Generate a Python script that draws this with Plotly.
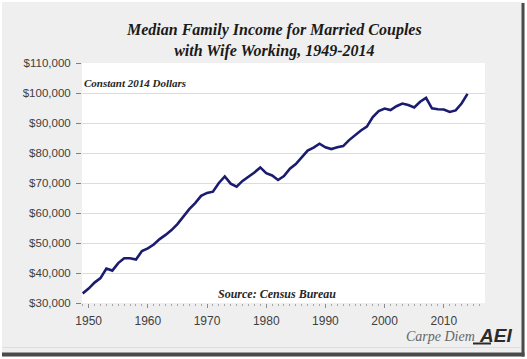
import plotly.graph_objects as go

years = list(range(1949, 2015))
income = [
    33200, 34800, 36800, 38300, 41500, 40800, 43300, 44900, 44900, 44500,
    47300, 48200, 49500, 51300, 52700, 54300, 56300, 58800, 61300, 63300,
    65700, 66700, 67100, 70000, 72200, 69800, 68800, 70700, 72000, 73500,
    75200, 73300, 72500, 71000, 72300, 74800, 76300, 78700, 80800, 81800,
    83100, 81900, 81300, 81900, 82300, 84300, 86000, 87500, 88800, 92000,
    94000, 94800, 94300, 95600, 96500, 96000, 95200, 97100, 98400, 94900,
    94600, 94500, 93700, 94200, 96500, 99700,
]
y_ticks = [30000, 40000, 50000, 60000, 70000, 80000, 90000, 100000, 110000]
x_ticks = [1950, 1960, 1970, 1980, 1990, 2000, 2010]

W, H = 527, 359
L, R, T, B = 82, 42, 63, 56
PW, PH = W - L - R, H - T - B


def px(x):
    return (x - L) / PW


def py(y):
    return (H - B - y) / PH


fig = go.Figure()
fig.add_trace(go.Scatter(
    x=years, y=income, mode="lines",
    line=dict(color="#1b1b6f", width=2.6),
    hoverinfo="skip", showlegend=False,
))

serif = "Liberation Serif, Georgia, serif"
sans = "Liberation Sans, Arial, sans-serif"


def rect(x0, y0, x1, y1, color):
    return dict(type="rect", xref="paper", yref="paper",
                x0=px(x0), x1=px(x1), y0=py(y1), y1=py(y0),
                fillcolor=color, line=dict(width=0), layer="above")


shapes = [
    # white outer margins around the gray frame
    rect(-1, -1, 528, 2, "#ffffff"),
    rect(-1, -1, 2, 360, "#ffffff"),
    rect(524.5, -1, 528, 360, "#ffffff"),
    rect(-1, 356.5, 528, 360, "#ffffff"),
    # faint line near bottom
    dict(type="line", xref="paper", yref="paper", x0=px(2), x1=px(521), y0=py(347.5), y1=py(347.5),
         line=dict(color="#dedede", width=1), layer="above"),
    # bottom and right shadow
    rect(2, 352.5, 524.5, 356.5, "#4a4a4a"),
    rect(521.5, 3, 524.5, 356.5, "#4a4a4a"),
    # logo underline stroke
    dict(type="line", xref="paper", yref="paper", x0=px(473), x1=px(491), y0=py(343.5), y1=py(343.5),
         line=dict(color="#2a2a2a", width=2)),
]

annotations = [
    dict(text="<b><i>Median Family Income for Married Couples<br>with Wife Working, 1949-2014</i></b>",
         x=px(273.5), y=py(40.5),
         xref="paper", yref="paper", xanchor="center", yanchor="middle", showarrow=False,
         font=dict(family=serif, size=16, color="#1a1a1a")),
    dict(text="<b><i>Constant 2014 Dollars</i></b>", x=px(82), y=py(83),
         xref="paper", yref="paper", xanchor="left", yanchor="middle", showarrow=False,
         font=dict(family=serif, size=11, color="#262626")),
    dict(text="<b><i>Source: Census Bureau</i></b>", x=px(276.7), y=py(294.3),
         xref="paper", yref="paper", xanchor="center", yanchor="middle", showarrow=False,
         font=dict(family=serif, size=12, color="#262626")),
    dict(text="<i>Carpe Diem</i>", x=px(440), y=py(336),
         xref="paper", yref="paper", xanchor="center", yanchor="middle", showarrow=False,
         font=dict(family=serif, size=14, color="#666666")),
    dict(text="<b><i>AEI</i></b>", x=px(495), y=py(335),
         xref="paper", yref="paper", xanchor="center", yanchor="middle", showarrow=False,
         font=dict(family=sans, size=19, color="#2a2a2a")),
]

fig.update_layout(
    width=W, height=H,
    margin=dict(l=L, r=R, t=T, b=B, pad=0),
    paper_bgcolor="#efefef",
    plot_bgcolor="#ffffff",
    shapes=shapes,
    annotations=annotations,
    showlegend=False,
)

fig.update_xaxes(
    range=[1948.88, 2016.96],
    tickmode="array", tickvals=x_ticks, ticktext=[str(v) for v in x_ticks],
    ticks="outside", ticklen=4, tickwidth=1, tickcolor="#8c8c8c",
    minor=dict(dtick=1, tick0=1949, ticks="outside", ticklen=2, tickwidth=1, tickcolor="#a6a6a6", showgrid=False),
    showgrid=False, showline=False, zeroline=False,
    tickfont=dict(family=sans, size=12, color="#404040"),
    ticklabelstandoff=3,
)
fig.update_yaxes(
    range=[30000, 110000],
    tickmode="array", tickvals=y_ticks,
    ticktext=["${:,}".format(v) for v in y_ticks],
    ticks="outside", ticklen=5, tickwidth=1, tickcolor="#7f7f7f",
    showgrid=True, gridcolor="#dcdcdc", gridwidth=1,
    showline=False, zeroline=False,
    tickfont=dict(family=sans, size=11.5, color="#404040"),
    ticklabelstandoff=3,
)

fig.write_html(
    "out.html",
    config={"displayModeBar": False},
    post_script="document.body.style.margin='0';document.body.style.padding='0';",
)
